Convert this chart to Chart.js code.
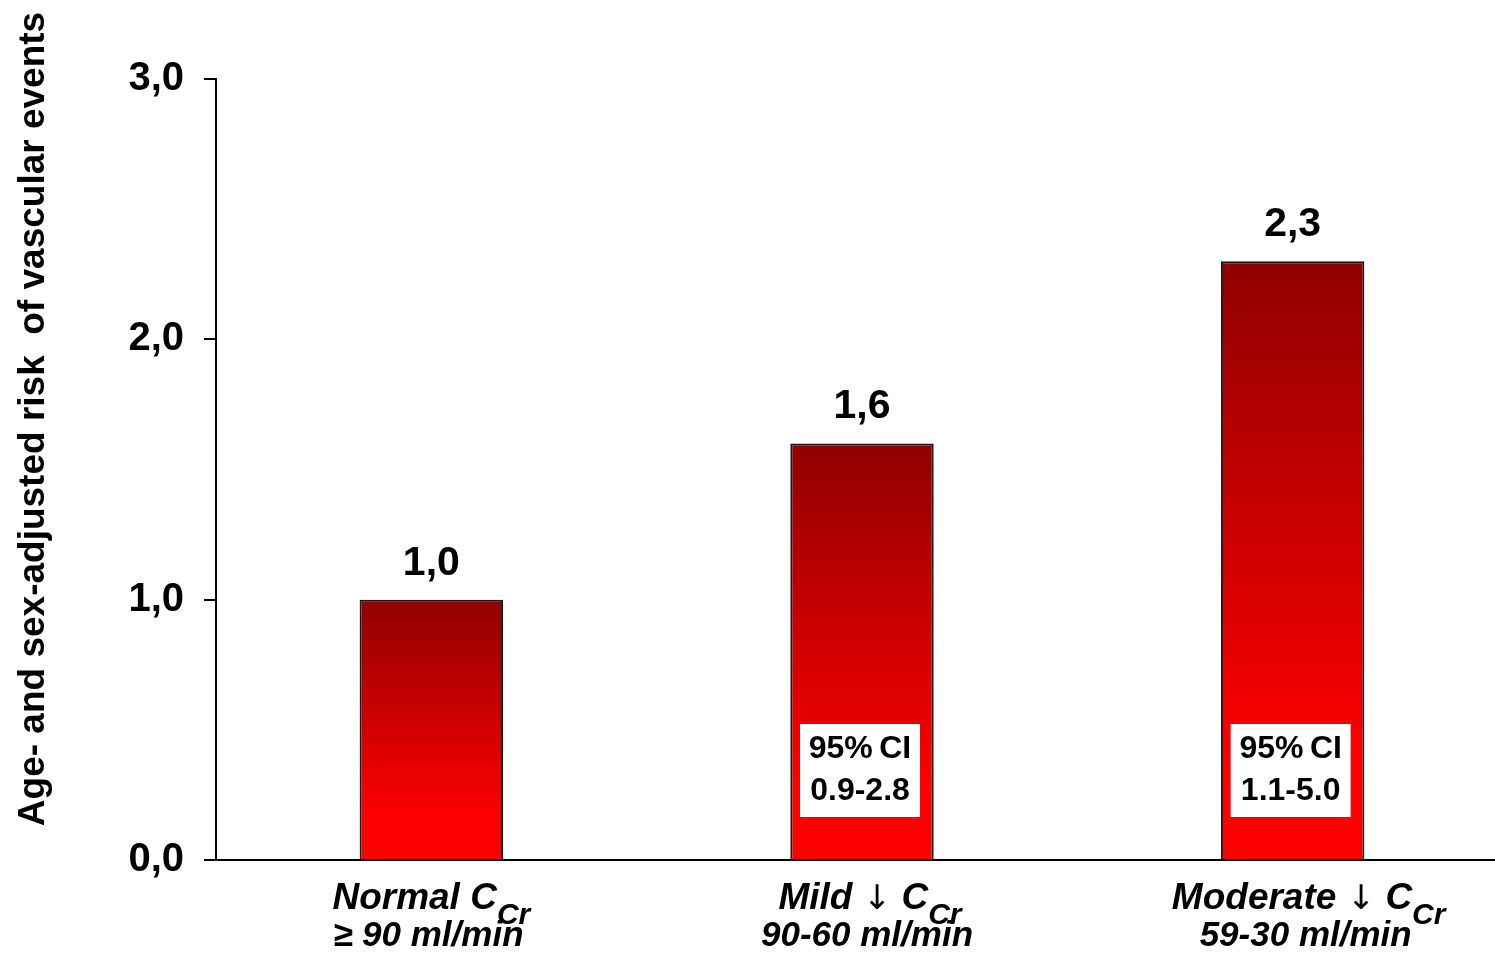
<!DOCTYPE html>
<html>
<head>
<meta charset="utf-8">
<title>Age- and sex-adjusted risk of vascular events</title>
<script src="https://cdn.jsdelivr.net/npm/chart.js@4.4.1/dist/chart.umd.min.js"></script>
<style>
  html, body { margin: 0; padding: 0; background: #fff; overflow: hidden; }
  #wrap { position: relative; width: 1495px; height: 960px; overflow: hidden; }
  #wrap canvas { position: absolute; left: 0; top: 0; }
</style>
</head>
<body>
<div id="wrap"><canvas id="chart" width="1510" height="960"></canvas></div>
<script>
// Creatinine clearance groups: name, optional arrow, subscripted symbol, range
const groupNames = ['Normal', 'Mild', 'Moderate'];
const groupArrows = ['', '\u2193', '\u2193'];
const groupSubs = ['Cr', 'Cr', 'Cr'];
const groupRanges = ['\u2265 90 ml/min', '90-60 ml/min', '59-30 ml/min'];

// Relative risk per group
const riskValues = [1.0, 1.6, 2.3];

// 95% confidence intervals (none for the reference group)
const ciRanges = [null, '0.9-2.8', '1.1-5.0'];

// Y axis ticks
const yTicks = [0, 1, 2, 3];
const yTitle = 'Age- and sex-adjusted risk  of vascular events';

const FONT = '"Liberation Sans", Arial, Helvetica, sans-serif';
const fmt = v => v.toFixed(1).replace('.', ',');

// Dark-to-bright red fill running from each bar's top to the baseline
function barGradient(ctx) {
  const chart = ctx.chart;
  if (!chart.chartArea) return '#cc0000';
  const y = chart.scales.y;
  const top = y.getPixelForValue(ctx.raw);
  const bottom = y.getPixelForValue(0);
  const g = chart.ctx.createLinearGradient(0, top, 0, bottom);
  g.addColorStop(0, '#900000');
  g.addColorStop(0.5, '#d20000');
  g.addColorStop(0.85, '#ff0000');
  g.addColorStop(1, '#ff0000');
  return g;
}

// Draws a list of text runs [text, font, dy] centred on cx
function drawRuns(ctx, runs, cx, y) {
  ctx.textAlign = 'left';
  const widths = runs.map(r => { ctx.font = r[1]; return ctx.measureText(r[0]).width; });
  let x = cx - widths.reduce((a, b) => a + b, 0) / 2;
  runs.forEach((r, k) => {
    ctx.font = r[1];
    ctx.fillText(r[0], x, y + (r[2] || 0));
    x += widths[k];
  });
}

// Value labels, CI boxes, two-line category labels and the rotated y title
const annotations = {
  id: 'annotations',
  afterDraw(chart) {
    const ctx = chart.ctx;
    const xs = chart.scales.x;
    const ys = chart.scales.y;
    const base = ys.getPixelForValue(0);
    ctx.save();
    ctx.fillStyle = '#000';

    // values above bars
    ctx.font = 'bold 41px ' + FONT;
    ctx.textAlign = 'center';
    ctx.textBaseline = 'alphabetic';
    riskValues.forEach((v, i) => {
      ctx.fillText(fmt(v), xs.getPixelForValue(i), ys.getPixelForValue(v) - 25);
    });

    // confidence interval boxes
    ciRanges.forEach((ci, i) => {
      if (!ci) return;
      const cx = xs.getPixelForValue(i) - 2;
      const w = 120, h = 93;
      const bottom = base - 43;
      ctx.fillStyle = '#fff';
      ctx.fillRect(cx - w / 2, bottom - h, w, h);
      ctx.fillStyle = '#000';
      ctx.font = 'bold 32px ' + FONT;
      ctx.textAlign = 'center';
      ctx.fillText('95%\u2009CI', cx, bottom - 59);
      ctx.fillText(ci, cx, bottom - 17);
    });

    // category labels with subscript
    const shift = [0, 8, 16];
    const mainFont = 'italic bold 37px ' + FONT;
    const arrowFont = 'italic 34px "DejaVu Sans", sans-serif';
    const subFont = 'italic bold 30px ' + FONT;
    groupNames.forEach((name, i) => {
      const cx = xs.getPixelForValue(i) + shift[i];
      const runs = [[name + ' ', mainFont]];
      if (groupArrows[i]) runs.push([groupArrows[i], arrowFont], [' ', mainFont]);
      runs.push(['C', mainFont], [groupSubs[i], subFont, 15]);
      drawRuns(ctx, runs, cx, base + 49);
      ctx.font = 'italic bold 35px ' + FONT;
      ctx.textAlign = 'center';
      ctx.fillText(groupRanges[i], cx - 3, base + 86);
    });

    // rotated axis title
    ctx.translate(34, 419);
    ctx.rotate(-Math.PI / 2);
    ctx.font = 'bold 37px ' + FONT;
    ctx.textAlign = 'center';
    ctx.textBaseline = 'middle';
    ctx.fillText(yTitle, 0, 0);
    ctx.restore();
  }
};

new Chart(document.getElementById('chart'), {
  type: 'bar',
  data: {
    labels: groupNames.map((n, i) => n + ' C' + groupSubs[i] + ' ' + groupRanges[i]),
    datasets: [{
      data: riskValues,
      backgroundColor: barGradient,
      borderColor: '#1a1a1a',
      borderWidth: 2,
      borderSkipped: 'bottom',
      barPercentage: 0.333,
      categoryPercentage: 1
    }]
  },
  options: {
    responsive: false,
    animation: false,
    layout: { padding: { top: 79, right: 2, left: 0, bottom: 0 } },
    plugins: { legend: { display: false }, tooltip: { enabled: false } },
    scales: {
      x: {
        grid: { display: false },
        border: { display: true, color: '#000', width: 2 },
        ticks: { display: false },
        afterFit(scale) { scale.height = 100; }
      },
      y: {
        min: 0,
        max: 3,
        afterBuildTicks(scale) { scale.ticks = yTicks.map(v => ({ value: v })); },
        grid: { display: true, drawOnChartArea: false, drawTicks: true, tickLength: 12, color: '#000', lineWidth: 2 },
        border: { display: true, color: '#000', width: 2 },
        ticks: {
          color: '#000',
          padding: 20,
          font: { family: FONT, size: 40, weight: 'bold' },
          callback: v => fmt(v)
        },
        afterFit(scale) { scale.width = 216; }
      }
    }
  },
  plugins: [annotations]
});
</script>
</body>
</html>
